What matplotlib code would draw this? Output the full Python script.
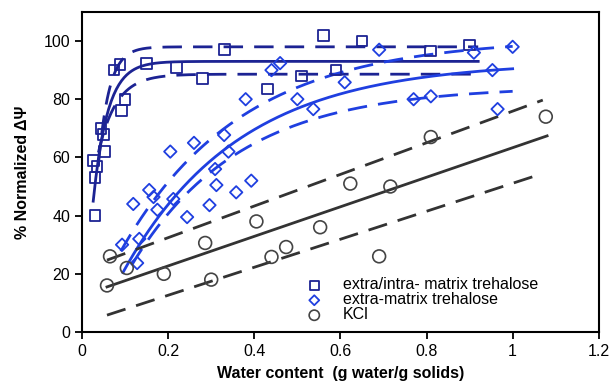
import numpy as np
import matplotlib
matplotlib.use("Agg")
import matplotlib.pyplot as plt

plt.rcParams['font.family'] = ['Liberation Sans', 'DejaVu Sans']

# extra/intra-matrix trehalose (squares)
sq_x = [0.026, 0.03, 0.035, 0.03, 0.044, 0.05, 0.053, 0.074, 0.088, 0.091, 0.10,
        0.149, 0.22, 0.28, 0.33, 0.43, 0.51, 0.56, 0.59, 0.65, 0.81, 0.90]
sq_y = [59, 53, 57, 40, 70, 68, 62, 90, 92, 76, 80,
        92.4, 91, 87, 97, 83.5, 88, 102, 90, 100, 96.6, 98.6]

# extra-matrix trehalose (diamonds)
di_x = [0.093, 0.128, 0.133, 0.119, 0.156, 0.166, 0.175, 0.212, 0.244, 0.296, 0.312, 0.358, 0.393,
        0.205, 0.26, 0.33, 0.34, 0.309, 0.38, 0.44, 0.46, 0.50, 0.537, 0.61, 0.69,
        0.77, 0.81, 0.91, 0.953, 0.965, 1.0]
di_y = [30, 23.7, 32, 44, 48.8, 46.4, 42, 45.7, 39.5, 43.6, 50.5, 48, 52,
        62, 65, 67.7, 62, 56, 80, 90, 92.4, 80, 76.6, 85.8, 97,
        80, 81, 96, 90, 76.6, 98]

# KCl (circles)
kc_x = [0.065, 0.058, 0.104, 0.19, 0.286, 0.30, 0.405, 0.44, 0.474, 0.553, 0.623, 0.716, 0.69, 0.81, 1.077]
kc_y = [26, 16, 22, 20, 30.6, 18, 38, 25.8, 29.2, 36, 51, 50, 26, 67, 74]

# fitted curve parameters: (amplitude, x offset, time constant)
sq_fit = (93, 0.004, 0.0333)
sq_hi = (98, 0.016, 0.025)
sq_lo = (88.6, -0.012, 0.042)
sq_range_fit = (0.026, 0.92)
sq_range_band = (0.038, 0.92)

di_fit = (93, 0.028, 0.27)
di_hi = (101, 0.0, 0.28)
di_lo = (84.5, 0.036, 0.25)
di_range_fit = (0.095, 1.0)
di_range_hi = (0.09, 1.0)
di_range_lo = (0.115, 1.0)

# KCl linear fit and band end points (x, y)
kc_fit = [(0.058, 15.5), (1.08, 67.4)]
kc_hi = [(0.058, 24.7), (1.07, 79.7)]
kc_lo = [(0.058, 5.8), (1.06, 54.0)]

labels = ['extra/intra- matrix trehalose', 'extra-matrix trehalose', 'KCl']

c_sq = '#1c2393'
c_di = '#1f3fe0'
c_kc = '#333333'

def expcurve(p, rng):
    a, x0, t = p
    x = np.linspace(rng[0], rng[1], 300)
    return x, a * (1 - np.exp(-(x - x0) / t))

fig = plt.figure(figsize=(6.13, 3.88), dpi=100)
ax = fig.add_axes([0.1338, 0.1443, 0.843, 0.825])

dash = (0, (7, 4))
lw = 2.0

x, y = expcurve(sq_fit, sq_range_fit)
ax.plot(x, y, color=c_sq, lw=lw)
for p in (sq_hi, sq_lo):
    x, y = expcurve(p, sq_range_band)
    ax.plot(x, y, color=c_sq, lw=lw, linestyle=dash)

x, y = expcurve(di_fit, di_range_fit)
ax.plot(x, y, color=c_di, lw=lw)
x, y = expcurve(di_hi, di_range_hi)
ax.plot(x, y, color=c_di, lw=lw, linestyle=dash)
x, y = expcurve(di_lo, di_range_lo)
ax.plot(x, y, color=c_di, lw=lw, linestyle=dash)

ax.plot(*zip(*kc_fit), color=c_kc, lw=lw)
ax.plot(*zip(*kc_hi), color=c_kc, lw=lw, linestyle=dash)
ax.plot(*zip(*kc_lo), color=c_kc, lw=lw, linestyle=dash)

ax.scatter(sq_x, sq_y, marker='s', s=60, facecolors='none', edgecolors=c_sq, linewidths=1.3, label=labels[0], zorder=3)
ax.scatter(di_x, di_y, marker='D', s=40, facecolors='none', edgecolors=c_di, linewidths=1.3, label=labels[1], zorder=3)
ax.scatter(kc_x, kc_y, marker='o', s=85, facecolors='none', edgecolors='#444444', linewidths=1.2, label=labels[2], zorder=3)

ax.set_xlim(0, 1.2)
ax.set_ylim(0, 110)
ax.set_xticks([0, 0.2, 0.4, 0.6, 0.8, 1.0, 1.2])
ax.set_xticklabels(['0', '0.2', '0.4', '0.6', '0.8', '1', '1.2'])
ax.set_yticks([0, 20, 40, 60, 80, 100])
ax.tick_params(direction='out', length=5, width=1.3, labelsize=11.5)
for s in ax.spines.values():
    s.set_linewidth(1.5)

ax.set_xlabel('Water content  (g water/g solids)', fontsize=11.5, fontweight='bold', labelpad=5)
ax.set_ylabel('% Normalized \u0394\u03a8', fontsize=11.5, fontweight='bold', labelpad=10)

leg = ax.legend(loc='lower left', bbox_to_anchor=(0.4, 0.0), frameon=False, fontsize=11.5,
                handletextpad=0.8, labelspacing=0.0, borderaxespad=0.2, markerscale=0.8)

fig.savefig('out.png', dpi=100)
